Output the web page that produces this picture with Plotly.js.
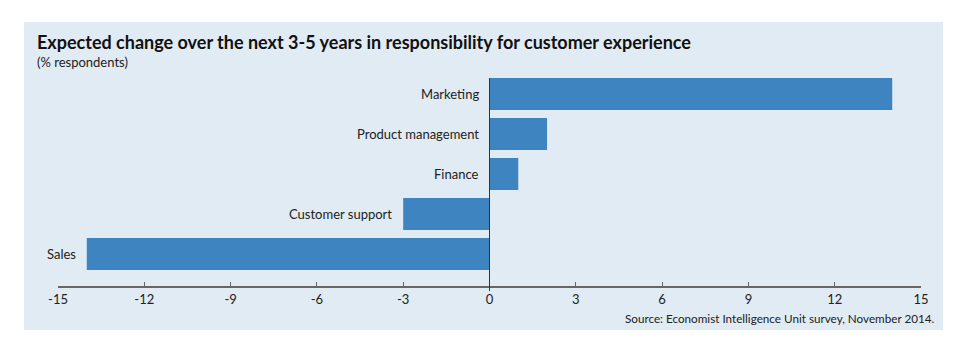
<!DOCTYPE html>
<html>
<head>
<meta charset="utf-8">
<script src="https://cdn.plot.ly/plotly-3.0.1.min.js"></script>
<style>html,body{margin:0;padding:0;background:#fff;}#chart{width:975px;height:355px;}</style>
</head>
<body>
<div id="chart"></div>
<script>
const categories = ["Marketing", "Product management", "Finance", "Customer support", "Sales"];
const values = [14, 2, 1, -3, -14];
const tickValues = [-15, -12, -9, -6, -3, 0, 3, 6, 9, 12, 15];
const tickLabels = ["-15", "-12", "-9", "-6", "-3", "0", "3", "6", "9", "12", "15"];
const titleText = "Expected change over the next 3-5 years in responsibility for customer experience";
const subtitleText = "(% respondents)";
const sourceText = "Source: Economist Intelligence Unit survey, November 2014.";

const FONT = "Lato, 'Open Sans', sans-serif";
const n = categories.length;
const ypos = categories.map((c, i) => n - 1 - i);

const trace = {
  type: "bar",
  orientation: "h",
  x: values,
  y: ypos,
  width: 0.8,
  marker: {color: "#3d84c0", line: {width: 0}},
  hoverinfo: "skip"
};

const annotations = categories.map((c, i) => ({
  x: Math.min(0, values[i]),
  y: ypos[i],
  xref: "x", yref: "y",
  text: c,
  showarrow: false,
  xanchor: "right",
  yanchor: "middle",
  xshift: -9,
  font: {family: FONT, size: 13, color: "#222"}
}));

annotations.push({
  xref: "paper", yref: "paper",
  x: (35 - 58) / 863, y: (286 - 42) / 212,
  text: "<b>" + titleText + "</b>",
  showarrow: false, xanchor: "left", yanchor: "middle",
  font: {family: FONT, size: 18, color: "#111"}
});
annotations.push({
  xref: "paper", yref: "paper",
  x: (35 - 58) / 863, y: (286 - 62) / 212,
  text: subtitleText,
  showarrow: false, xanchor: "left", yanchor: "middle",
  font: {family: FONT, size: 13, color: "#222"}
});
annotations.push({
  xref: "paper", yref: "paper",
  x: (937 - 58) / 863, y: (286 - 318) / 212,
  text: sourceText,
  showarrow: false, xanchor: "right", yanchor: "middle",
  font: {family: FONT, size: 11.7, color: "#222"}
});

const layout = {
  width: 975, height: 355,
  margin: {l: 58, r: 54, t: 74, b: 69, pad: 0},
  paper_bgcolor: "#ffffff",
  plot_bgcolor: "rgba(0,0,0,0)",
  showlegend: false,
  xaxis: {
    range: [-15, 15],
    tickmode: "array",
    tickvals: tickValues,
    ticktext: tickLabels,
    ticks: "inside",
    ticklen: 4,
    tickcolor: "#666",
    tickwidth: 1,
    showline: true,
    linecolor: "#666",
    linewidth: 2,
    showgrid: false,
    zeroline: false,
    tickfont: {family: FONT, size: 13, color: "#222"},
    fixedrange: true
  },
  yaxis: {
    range: [-0.8, 4.5],
    showticklabels: false,
    showgrid: false,
    zeroline: false,
    showline: false,
    ticks: "",
    fixedrange: true
  },
  shapes: [{
    type: "rect", xref: "paper", yref: "paper", layer: "below",
    x0: (24 - 58) / 863, x1: (943 - 58) / 863,
    y0: (286 - 330) / 212, y1: (286 - 22) / 212,
    fillcolor: "#e1ebf3", line: {width: 0}
  }, {
    type: "line", xref: "x", yref: "paper", layer: "above",
    x0: 0, x1: 0,
    y0: (286 - 291) / 212, y1: (286 - 78) / 212,
    line: {color: "#333", width: 1}
  }],
  annotations: annotations
};

Plotly.newPlot("chart", [trace], layout, {displayModeBar: false, staticPlot: true});
</script>
</body>
</html>
